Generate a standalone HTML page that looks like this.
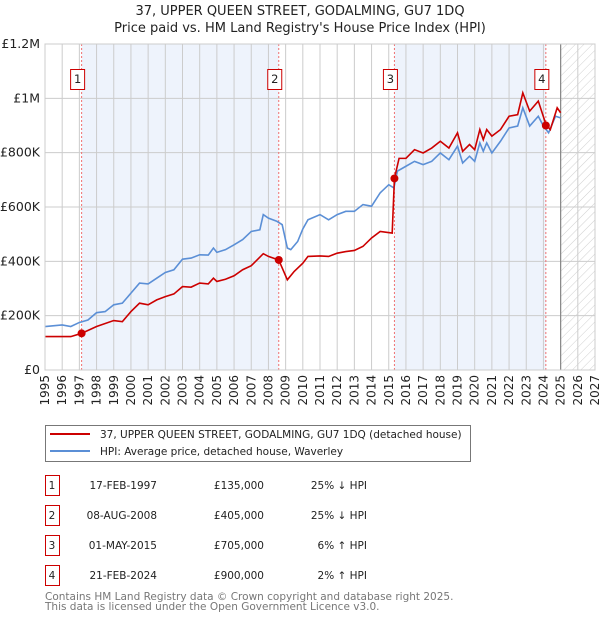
<!DOCTYPE html>
<html><head><meta charset="utf-8"><style>
body{margin:0;background:#fff}
svg{font-family:"DejaVu Sans","Liberation Sans",sans-serif;display:block}
</style></head><body>
<svg id="c" width="600" height="620" viewBox="0 0 600 620">
<defs><pattern id="hatch" width="6" height="6" patternUnits="userSpaceOnUse" patternTransform="rotate(45)"><line x1="0" y1="0" x2="0" y2="6" stroke="#c4c4c4" stroke-width="0.8"/></pattern></defs>
<text x="300" y="15" text-anchor="middle" font-size="13" fill="#222">37, UPPER QUEEN STREET, GODALMING, GU7 1DQ</text>
<text x="300" y="32" text-anchor="middle" font-size="13" fill="#222">Price paid vs. HM Land Registry's House Price Index (HPI)</text>
<g id="plot"></g>
<g>
<rect x="45.5" y="425.5" width="425" height="36" fill="#fff" stroke="#777"/>
<line x1="50" y1="434" x2="90" y2="434" stroke="#cc0000" stroke-width="2"/>
<text x="100" y="438" font-size="10.5" fill="#222">37, UPPER QUEEN STREET, GODALMING, GU7 1DQ (detached house)</text>
<line x1="50" y1="451" x2="90" y2="451" stroke="#5b8fd6" stroke-width="2"/>
<text x="100" y="455" font-size="10.5" fill="#222">HPI: Average price, detached house, Waverley</text>
</g>
<g id="table" font-size="10.5" fill="#222"></g>
<text x="45" y="600" font-size="10.5" fill="#777">Contains HM Land Registry data © Crown copyright and database right 2025.</text>
<text x="45" y="610" font-size="10.5" fill="#777">This data is licensed under the Open Government Licence v3.0.</text>
</svg>
<script>
const hpiYears=[1995,1996,1996.5,1997,1997.5,1998,1998.5,1999,1999.5,2000,2000.5,2001,2001.5,2002,2002.5,2003,2003.5,2004,2004.5,2004.8,2005,2005.5,2006,2006.5,2007,2007.5,2007.7,2008,2008.5,2008.8,2009.1,2009.3,2009.7,2010,2010.3,2011,2011.5,2012,2012.5,2013,2013.5,2014,2014.5,2015,2015.3,2015.5,2016,2016.5,2017,2017.5,2018,2018.5,2019,2019.3,2019.7,2020,2020.3,2020.5,2020.7,2021,2021.5,2022,2022.5,2022.8,2023.2,2023.7,2024,2024.3,2024.7,2025];
const hpiValues=[160,166,160,175,184,211,215,240,246,283,320,317,338,359,369,408,412,424,423,449,433,443,461,480,510,516,572,559,547,535,449,443,473,519,553,572,553,572,584,584,609,603,652,682,670,732,750,768,756,768,799,774,824,762,787,768,836,805,836,799,842,891,898,965,898,934,898,873,934,928];
const priceYears=[1995,1996.5,1997.13,1998,1999,1999.5,2000,2000.5,2001,2001.5,2002,2002.5,2003,2003.5,2004,2004.5,2004.8,2005,2005.5,2006,2006.5,2007,2007.7,2008,2008.6,2009.1,2009.5,2010,2010.3,2011,2011.5,2012,2012.5,2013,2013.5,2014,2014.5,2015.2,2015.33,2015.6,2016,2016.5,2017,2017.5,2018,2018.5,2019,2019.3,2019.7,2020,2020.3,2020.5,2020.7,2021,2021.5,2022,2022.5,2022.8,2023.2,2023.7,2024.14,2024.4,2024.8,2025];
const priceValues=[123,123,135,160,182,178,215,246,240,258,270,280,307,305,320,317,338,326,334,347,369,384,428,418,405,332,363,393,418,420,418,430,436,440,455,486,510,504,705,779,779,811,799,817,842,817,873,805,830,811,885,848,885,861,885,934,940,1020,953,990,905,885,965,947];
const saleYears=[1997.13,2008.6,2015.33,2024.14];
const salePrices=[135,405,705,900];
const saleLabels=["1","2","3","4"];
const saleDates=["17-FEB-1997","08-AUG-2008","01-MAY-2015","21-FEB-2024"];
const salePriceText=["£135,000","£405,000","£705,000","£900,000"];
const saleHpiText=["25% ↓ HPI","25% ↓ HPI","6% ↑ HPI","2% ↑ HPI"];
const yTicks=[0,200,400,600,800,1000,1200];
const yTickLabels=["£0","£200K","£400K","£600K","£800K","£1M","£1.2M"];
const xTicks=[1995,1996,1997,1998,1999,2000,2001,2002,2003,2004,2005,2006,2007,2008,2009,2010,2011,2012,2013,2014,2015,2016,2017,2018,2019,2020,2021,2022,2023,2024,2025,2026,2027];

const X0=45,X1=595,Y0=370,Y1=44,x0=1995,x1=2027,vMax=1200,dataEnd=2025;
const sx=v=>X0+(v-x0)/(x1-x0)*(X1-X0);
const sy=v=>Y0-v/vMax*(Y0-Y1);
const NS="http://www.w3.org/2000/svg";
const plot=document.getElementById('plot');
function mk(tag,attrs,parent){const e=document.createElementNS(NS,tag);for(const k in attrs)e.setAttribute(k,attrs[k]);(parent||plot).appendChild(e);return e;}

for(let i=0;i<saleYears.length;i+=2){
  const e=mk('rect',{x:sx(saleYears[i]),y:Y1,width:sx(saleYears[i+1])-sx(saleYears[i]),height:Y0-Y1,fill:'#eef3fc'});
  
  
}
const h=mk('rect',{x:sx(dataEnd),y:Y1,width:X1-sx(dataEnd),height:Y0-Y1,fill:'url(#hatch)'});


xTicks.forEach(t=>{
  const l=mk('line',{x1:sx(t),x2:sx(t),y1:Y1,y2:Y0,stroke:'#ccc','stroke-width':1});
  
  
  const tx=mk('text',{x:0,y:0,'font-size':12,fill:'#222','text-anchor':'end',transform:`translate(${sx(t)+4},375) rotate(-90)`});
  tx.textContent=t;
  
  
});
yTicks.forEach((t,i)=>{
  const l=mk('line',{x1:X0,x2:X1,y1:sy(t),y2:sy(t),stroke:'#ccc','stroke-width':1});
  
  
  const tx=mk('text',{x:40,y:sy(t)+4,'font-size':12.5,fill:'#222','text-anchor':'end'});
  tx.textContent=yTickLabels[i];
  
  
});
const dl=mk('line',{x1:sx(dataEnd),x2:sx(dataEnd),y1:Y1,y2:Y0,stroke:'#888','stroke-width':1.2});


saleYears.forEach((y,i)=>{
  const l=mk('line',{x1:sx(y),x2:sx(y),y1:Y1,y2:Y0,stroke:'#f07070','stroke-width':1,'stroke-dasharray':'2,2'});
  
  
  const r=mk('rect',{x:sx(y)-11,y:69.5,width:14,height:20,fill:'#fff',stroke:'#cc0000'});
  
  
  const t=mk('text',{x:sx(y)-4,y:83,'font-size':11.5,fill:'#222','text-anchor':'middle'});
  t.textContent=saleLabels[i];
  
  
});
const hp=mk('polyline',{points:hpiYears.map((y,i)=>sx(y)+','+sy(hpiValues[i])).join(' '),fill:'none',stroke:'#5b8fd6','stroke-width':1.6});


const pp=mk('polyline',{points:priceYears.map((y,i)=>sx(y)+','+sy(priceValues[i])).join(' '),fill:'none',stroke:'#cc0000','stroke-width':1.6});


saleYears.forEach((y,i)=>{
  const c=mk('circle',{cx:sx(y),cy:sy(salePrices[i]),r:4,fill:'#cc0000'});
  
  
});
const fr=mk('rect',{x:X0,y:Y1,width:X1-X0,height:Y0-Y1,fill:'none',stroke:'#ccc'});


const tb=document.getElementById('table');
saleYears.forEach((y,i)=>{
  const ry=475+i*30;
  const r=mk('rect',{x:45.5,y:ry+0.5,width:14,height:20,fill:'#fff',stroke:'#cc0000'},tb);
  
  
  const vals=[[saleLabels[i],52,'middle'],[saleDates[i],157,'end'],[salePriceText[i],264,'end'],[saleHpiText[i],367,'end']];
  vals.forEach(v=>{
    const t=mk('text',{x:v[1],y:ry+14,'text-anchor':v[2]},tb);
    t.textContent=v[0];
    
    
  });
});
</script>
</body></html>
